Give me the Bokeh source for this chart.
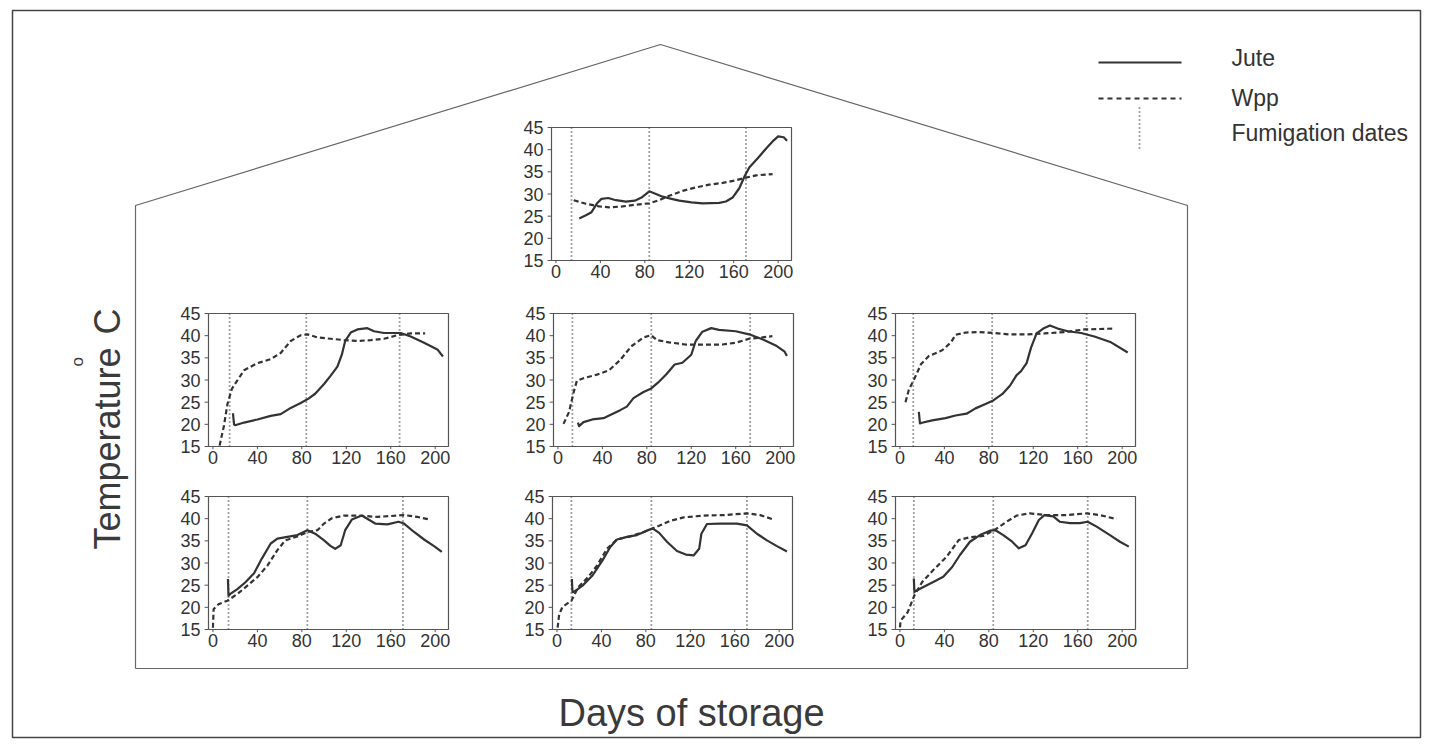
import math
from bokeh.plotting import figure
from bokeh.models import Range1d, Label
from bokeh.embed import file_html
from bokeh.resources import INLINE
from bokeh.core.properties import value

FONT = "Liberation Sans"
INK = "#333333"
FRAME = "#555555"

# ---------------- data ----------------
x_ticks = [0, 40, 80, 120, 160, 200]
y_ticks = [15, 20, 25, 30, 35, 40, 45]
x_min, x_max = -4, 212
y_min, y_max = 15, 45

legend_labels = ["Jute", "Wpp", "Fumigation dates"]
x_title = "Days of storage"
y_title = "Temperature"
y_unit = "C"

# top panel
top_jute_day = [21, 27, 32, 37, 41, 47, 54, 63, 71, 77, 84, 90, 96, 104, 111, 122, 132, 147, 153, 159, 165, 170, 174, 182, 190, 196, 200, 205, 208]
top_jute_temp = [24.5, 25.2, 25.9, 27.9, 28.9, 29.1, 28.6, 28.3, 28.5, 29.2, 30.6, 30.0, 29.4, 28.9, 28.5, 28.1, 27.9, 28.0, 28.3, 29.2, 31.3, 34.1, 36.0, 38.2, 40.5, 42.1, 43.0, 42.8, 42.0]
top_wpp_day = [16, 27, 39, 48, 60, 72, 84, 93, 102, 114, 126, 138, 150, 162, 171, 180, 195]
top_wpp_temp = [28.6, 27.8, 27.2, 27.0, 27.2, 27.6, 27.9, 28.6, 29.6, 30.7, 31.5, 32.1, 32.5, 33.1, 33.7, 34.2, 34.5]
top_fum = [14, 84, 171]

# middle row, left
ml_jute_day = [18, 19, 20, 28, 40, 52, 61, 70, 79, 86, 92, 100, 106, 112, 116, 119, 124, 130, 139, 145, 154, 169, 178, 190, 202, 207]
ml_jute_temp = [22.5, 20.0, 19.8, 20.4, 21.1, 21.9, 22.3, 23.7, 24.8, 25.8, 26.9, 29.1, 31.0, 33.0, 35.7, 38.8, 40.7, 41.4, 41.7, 41.0, 40.6, 40.6, 39.8, 38.4, 36.9, 35.3]
ml_wpp_day = [6, 10, 13, 17, 22, 28, 40, 52, 61, 70, 79, 85, 94, 106, 118, 130, 142, 154, 166, 178, 191]
ml_wpp_temp = [15.2, 19.8, 24.5, 28.0, 29.9, 32.2, 33.8, 34.7, 36.1, 38.8, 40.1, 40.3, 39.6, 39.3, 39.0, 38.8, 39.0, 39.3, 40.1, 40.5, 40.5]
ml_fum = [15, 84, 168]

# middle row, centre
mm_jute_day = [18, 19, 23, 31, 41, 48, 56, 62, 68, 77, 84, 90, 98, 105, 112, 120, 124, 130, 138, 145, 160, 172, 184, 196, 204, 206]
mm_jute_temp = [20.4, 19.6, 20.5, 21.1, 21.4, 22.2, 23.2, 24.0, 25.9, 27.3, 28.1, 29.4, 31.4, 33.5, 33.9, 35.7, 38.8, 40.9, 41.7, 41.3, 41.0, 40.3, 39.2, 37.8, 36.4, 35.4]
mm_wpp_day = [5, 10, 14, 17, 23, 35, 46, 56, 66, 77, 84, 89, 100, 115, 130, 148, 160, 172, 184, 193]
mm_wpp_temp = [20.1, 22.8, 27.1, 29.8, 30.4, 31.2, 32.2, 34.5, 37.6, 39.6, 40.1, 39.0, 38.5, 38.0, 38.0, 38.0, 38.4, 39.3, 39.6, 39.9]
mm_fum = [13, 84, 173]

# middle row, right
mr_jute_day = [17, 18, 19, 29, 41, 50, 60, 68, 77, 84, 92, 99, 105, 109, 114, 118, 123, 129, 135, 142, 151, 163, 175, 190, 205]
mr_jute_temp = [22.8, 20.2, 20.3, 20.9, 21.4, 22.0, 22.4, 23.6, 24.6, 25.4, 26.8, 28.7, 31.1, 32.0, 33.8, 37.3, 40.5, 41.6, 42.3, 41.6, 41.0, 40.6, 39.8, 38.5, 36.2]
mr_wpp_day = [5, 8, 13, 19, 26, 38, 46, 50, 59, 71, 84, 98, 115, 130, 148, 166, 192]
mr_wpp_temp = [25.0, 27.8, 30.3, 33.6, 35.4, 36.7, 38.5, 40.2, 40.7, 40.8, 40.6, 40.3, 40.3, 40.5, 40.8, 41.4, 41.6]
mr_fum = [12, 83, 168]

# bottom row, left
bl_jute_day = [13.5, 14, 16, 22, 29, 37, 44, 52, 58, 67, 76, 85, 92, 100, 106, 110, 115, 119, 125, 134, 140, 146, 157, 167, 172, 181, 190, 199, 206]
bl_jute_temp = [26.4, 22.6, 23.1, 24.1, 25.6, 27.7, 31.0, 34.4, 35.5, 35.9, 36.3, 37.4, 36.6, 35.1, 33.8, 33.2, 34.0, 37.4, 39.8, 40.7, 39.8, 38.9, 38.7, 39.3, 38.9, 37.0, 35.3, 33.8, 32.5]
bl_wpp_day = [0, 0.6, 5, 13, 22, 31, 40, 49, 58, 65, 76, 85, 94, 100, 107, 118, 130, 148, 172, 184, 195]
bl_wpp_temp = [15.4, 19.6, 20.7, 21.5, 23.0, 24.9, 26.8, 29.4, 32.9, 35.1, 36.0, 37.0, 37.4, 38.9, 40.1, 40.7, 40.7, 40.4, 40.8, 40.4, 39.8]
bl_fum = [14, 85, 171]

# bottom row, centre
bm_jute_day = [13.4, 14, 16, 23, 32, 41, 48, 54, 63, 72, 81, 86, 92, 99, 108, 116, 123, 128, 130, 135, 147, 162, 171, 180, 189, 198, 207]
bm_jute_temp = [26.4, 23.4, 23.6, 24.9, 27.2, 30.6, 33.6, 35.3, 35.9, 36.3, 37.3, 37.8, 36.8, 34.8, 32.7, 31.9, 31.7, 33.2, 36.6, 38.8, 38.9, 38.9, 38.5, 36.6, 35.1, 33.8, 32.6]
bm_wpp_day = [0.6, 2, 5, 13, 19, 28, 36, 45, 54, 66, 78, 86, 93, 102, 114, 132, 150, 171, 183, 195]
bm_wpp_temp = [15.4, 18.4, 20.1, 21.5, 24.5, 26.8, 29.4, 33.2, 35.3, 36.0, 37.0, 37.8, 38.5, 39.5, 40.3, 40.7, 40.8, 41.2, 40.8, 39.8]
bm_fum = [13, 85, 171]

# bottom row, right
br_jute_day = [12.5, 13, 15, 22, 30, 39, 47, 54, 63, 72, 81, 86, 93, 101, 107, 113, 119, 125, 130, 138, 144, 153, 162, 169, 177, 189, 198, 206]
br_jute_temp = [26.5, 23.5, 23.8, 24.7, 25.7, 26.9, 29.1, 31.8, 34.8, 36.3, 37.3, 37.4, 36.3, 34.8, 33.3, 34.0, 36.7, 39.7, 40.8, 40.5, 39.3, 39.0, 39.0, 39.3, 38.2, 36.3, 34.8, 33.7]
br_wpp_day = [0, 0.6, 7, 13, 20, 30, 42, 53, 63, 75, 86, 96, 105, 117, 132, 150, 168, 180, 195]
br_wpp_temp = [15.5, 17.0, 18.9, 22.7, 25.7, 28.4, 31.4, 35.2, 35.8, 36.1, 37.6, 39.3, 40.7, 41.2, 40.8, 40.8, 41.2, 40.8, 39.9]
br_fum = [12.5, 84, 169]

# ---------------- layout ----------------
W, H = 1423, 740


def Y(yref):
    # picture pixel row -> canvas coordinate (y up)
    return H - yref


p = figure(width=W, height=H, x_range=Range1d(0, W), y_range=Range1d(0, H),
           output_backend="svg", toolbar_location=None, min_border=0,
           x_axis_location=None, y_axis_location=None,
           background_fill_color="white", border_fill_color="white")
p.xgrid.visible = False
p.ygrid.visible = False
p.outline_line_color = None

# outer frame
p.quad(left=[12], right=[1420], top=[Y(10)], bottom=[Y(737)], fill_color=None,
       line_color="#444444", line_width=1.5)

# house outline
p.line(x=[135, 135, 660, 1187, 1187, 135], y=[Y(668), Y(205), Y(44), Y(205), Y(668), Y(668)],
       line_color="#666666", line_width=1.2)

PW, PH = 240, 133
panels = [
    (551, 127, top_jute_day, top_jute_temp, top_wpp_day, top_wpp_temp, top_fum),
    (208, 313, ml_jute_day, ml_jute_temp, ml_wpp_day, ml_wpp_temp, ml_fum),
    (553, 313, mm_jute_day, mm_jute_temp, mm_wpp_day, mm_wpp_temp, mm_fum),
    (895, 313, mr_jute_day, mr_jute_temp, mr_wpp_day, mr_wpp_temp, mr_fum),
    (208, 496, bl_jute_day, bl_jute_temp, bl_wpp_day, bl_wpp_temp, bl_fum),
    (552, 496, bm_jute_day, bm_jute_temp, bm_wpp_day, bm_wpp_temp, bm_fum),
    (895, 496, br_jute_day, br_jute_temp, br_wpp_day, br_wpp_temp, br_fum),
]

for (left, top, jd, jt, wd, wt, fum) in panels:
    sub = p.subplot(x_source=Range1d(x_min, x_max), y_source=Range1d(y_min, y_max),
                    x_target=Range1d(left, left + PW), y_target=Range1d(Y(top + PH), Y(top)))
    sub.quad(left=[x_min], right=[x_max], bottom=[y_min], top=[y_max],
             fill_color=None, line_color=FRAME, line_width=1.2)
    for d in fum:
        sub.line(x=[d, d], y=[y_min, y_max], line_color="#444444", line_width=1.8, line_dash="1 3")
    sub.line(x=jd, y=jt, line_color=INK, line_width=2.2, line_join="round")
    sub.line(x=wd, y=wt, line_color=INK, line_width=2.2, line_dash="5 3")
    # ticks
    sub.segment(x0=[x_min] * len(y_ticks), y0=y_ticks, x1=[x_min - 3.5] * len(y_ticks), y1=y_ticks,
                line_color=FRAME, line_width=1)
    sub.segment(x0=x_ticks, y0=[y_min] * len(x_ticks), x1=x_ticks, y1=[y_min - 0.6] * len(x_ticks),
                line_color=FRAME, line_width=1)
    sub.text(x=[x_min] * len(y_ticks), y=y_ticks, text=[str(v) for v in y_ticks],
             x_offset=-8, text_align="right", text_baseline="middle",
             text_font=value(FONT), text_font_size="18px", text_color=INK)
    sub.text(x=x_ticks, y=[y_min] * len(x_ticks), text=[str(v) for v in x_ticks],
             y_offset=4, text_align="center", text_baseline="top",
             text_font=value(FONT), text_font_size="18px", text_color=INK)

# legend
p.line(x=[1098, 1181], y=[Y(62), Y(62)], line_color=INK, line_width=2)
p.line(x=[1098, 1181], y=[Y(98), Y(98)], line_color=INK, line_width=2, line_dash="5 4")
p.line(x=[1139, 1139], y=[Y(107), Y(151)], line_color="#444444", line_width=1.8, line_dash="1 3")
for txt, yc in zip(legend_labels, [57, 97, 132]):
    p.add_layout(Label(x=1231, y=Y(yc), text=txt, text_font=FONT, text_font_size="23px",
                       text_color=INK, text_baseline="middle", text_align="left"))

# axis titles
p.add_layout(Label(x=691, y=Y(712), text=x_title, text_font=FONT, text_font_size="38px",
                   text_color="#3a3a3a", text_align="center", text_baseline="middle"))
p.add_layout(Label(x=107, y=Y(549), text=y_title, text_font=FONT, text_font_size="36px",
                   text_color="#3a3a3a", text_align="left", text_baseline="alphabetic", angle=math.pi / 2))
p.add_layout(Label(x=77, y=Y(366), text="o", text_font=FONT, text_font_size="17px",
                   text_color="#3a3a3a", text_align="left", text_baseline="alphabetic", angle=math.pi / 2))
p.add_layout(Label(x=107, y=Y(334), text=y_unit, text_font=FONT, text_font_size="36px",
                   text_color="#3a3a3a", text_align="left", text_baseline="alphabetic", angle=math.pi / 2))

open("out.html", "w").write(file_html(p, INLINE))
